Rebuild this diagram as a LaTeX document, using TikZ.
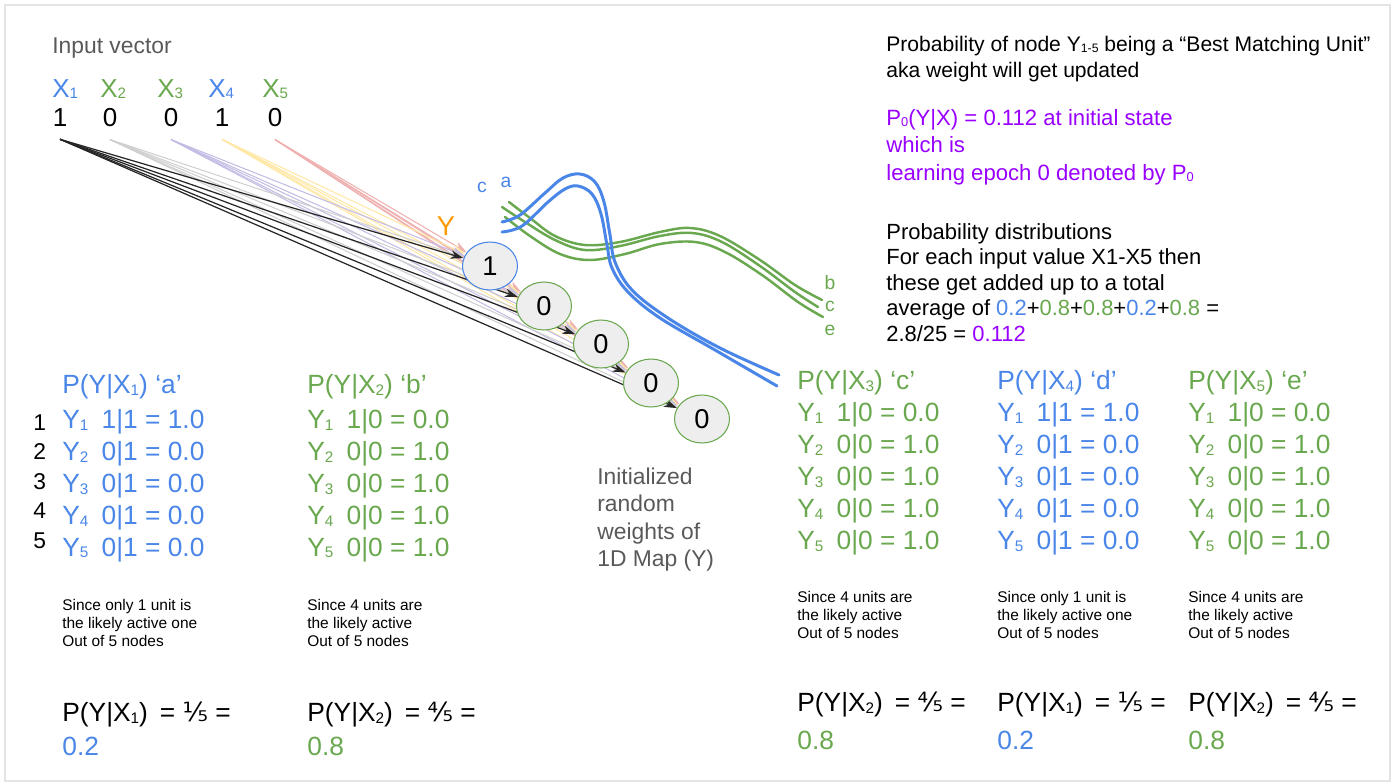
\documentclass[tikz,border=0pt]{standalone}
\usepackage{fontspec}
\setmainfont{Liberation Sans}
\newfontfamily\fracfont{DejaVu Sans}
\usepackage{tikz}
\usetikzlibrary{arrows.meta,shapes.geometric,backgrounds}
\tikzset{>=Stealth}
\usepackage{xcolor}
\definecolor{gblue}{HTML}{4A86E8}
\definecolor{ggreen}{HTML}{6AA84F}
\definecolor{gpurple}{HTML}{9900FF}
\definecolor{gorange}{HTML}{FF9900}
\definecolor{ggray}{HTML}{595959}
\definecolor{lnlav}{HTML}{C4BCE4}
\definecolor{lnyel}{HTML}{FFE7A6}
\definecolor{lnpink}{HTML}{EFB0B0}
\definecolor{lngray}{HTML}{CFCFCF}
\definecolor{unitfill}{HTML}{EEEEEE}
\definecolor{framegray}{HTML}{E4E4E4}
\newcommand{\sbs}[1]{\raisebox{-0.12ex}{\scalebox{0.58}{#1}}}
\newcommand{\fifth}{{\fracfont ⅕}}
\newcommand{\fourfifths}{{\fracfont ⅘}}

\begin{document}
\begin{tikzpicture}[
    x=0.02cm, y=-0.02cm,
    txt/.style={anchor=north west, inner sep=0pt, align=left},
    tabtext/.style={txt, font=\fontsize{15}{18.2}\selectfont},
    notetext/.style={txt, font=\fontsize{8.8}{10.25}\selectfont},
    bottext/.style={txt, font=\fontsize{15}{19.3}\selectfont},
    infotext/.style={txt, font=\fontsize{12.6}{14.8}\selectfont},
    invec/.style={txt, font=\fontsize{14.8}{17}\selectfont},
    inval/.style={anchor=center, inner xsep=0pt, inner ysep=0.24cm, font=\fontsize{14.8}{17}\selectfont},
    unit/.style={ellipse, draw=ggreen, line width=0.6pt, fill=unitfill, minimum width=1.1cm, minimum height=0.96cm, inner sep=0pt, font=\fontsize{15.5}{18}\selectfont},
    blkarrow/.style={-{Stealth[length=0.26cm,width=0.17cm]}, line width=0.7pt, black!85},
    grayarrow/.style={-{Stealth[length=0.26cm,width=0.17cm]}, line width=0.6pt, lngray},
    lavarrow/.style={-{Stealth[length=0.26cm,width=0.17cm]}, line width=0.6pt, lnlav},
    yelarrow/.style={-{Stealth[length=0.26cm,width=0.17cm]}, line width=0.6pt, lnyel},
    pinkarrow/.style={-{Stealth[length=0.26cm,width=0.17cm]}, line width=0.6pt, lnpink},
    bluecurve/.style={gblue, line width=1.7pt, line cap=round},
    greencurve/.style={ggreen, line width=1.4pt, line cap=round}
]
    \useasboundingbox (0,0) rectangle (1394,782);
    \draw[framegray, line width=1.2pt] (5,5) rectangle (1390,781);

    \node[txt, text=ggray, font=\fontsize{13}{15}\selectfont] (title) at (52,37) {Input vector};
    \node[invec, text=gblue] (x1) at (52,79) {X\sbs{1}};
    \node[invec, text=ggreen] (x2) at (100,79) {X\sbs{2}};
    \node[invec, text=ggreen] (x3) at (157,79) {X\sbs{3}};
    \node[invec, text=gblue] (x4) at (208,79) {X\sbs{4}};
    \node[invec, text=ggreen] (x5) at (262,79) {X\sbs{5}};
    \node[inval] (v1) at (60,118) {1};
    \node[inval] (v2) at (110,118) {0};
    \node[inval] (v3) at (171,118) {0};
    \node[inval] (v4) at (222,118) {1};
    \node[inval] (v5) at (275,118) {0};

    \node[unit, draw=gblue] (y1) at (490,266) {1};
    \node[unit] (y2) at (544,306) {0};
    \node[unit] (y3) at (601,344) {0};
    \node[unit] (y4) at (651,383) {0};
    \node[unit] (y5) at (702,419) {0};
    \node[text=gorange, font=\fontsize{15.5}{18}\selectfont, inner sep=0pt] (ylabel) at (446,226) {Y};

    \begin{pgfonlayer}{background}
    \draw[pinkarrow] (v5.south) -- (y1);
    \draw[pinkarrow] (v5.south) -- (y2);
    \draw[pinkarrow] (v5.south) -- (y3);
    \draw[pinkarrow] (v5.south) -- (y4);
    \draw[pinkarrow] (v5.south) -- (y5);
    \draw[yelarrow] (v4.south) -- (y1);
    \draw[yelarrow] (v4.south) -- (y2);
    \draw[yelarrow] (v4.south) -- (y3);
    \draw[yelarrow] (v4.south) -- (y4);
    \draw[yelarrow] (v4.south) -- (y5);
    \draw[lavarrow] (v3.south) -- (y1);
    \draw[lavarrow] (v3.south) -- (y2);
    \draw[lavarrow] (v3.south) -- (y3);
    \draw[lavarrow] (v3.south) -- (y4);
    \draw[lavarrow] (v3.south) -- (y5);
    \draw[grayarrow] (v2.south) -- (y1);
    \draw[grayarrow] (v2.south) -- (y2);
    \draw[grayarrow] (v2.south) -- (y3);
    \draw[grayarrow] (v2.south) -- (y4);
    \draw[grayarrow] (v2.south) -- (y5);
    \draw[blkarrow] (v1.south) -- (y1);
    \draw[blkarrow] (v1.south) -- (y2);
    \draw[blkarrow] (v1.south) -- (y3);
    \draw[blkarrow] (v1.south) -- (y4);
    \draw[blkarrow] (v1.south) -- (y5);
    \end{pgfonlayer}

    \draw[greencurve] plot[smooth, tension=0.6] coordinates {(509,202) (530,218) (555,236) (585,245) (620,242) (660,232) (690,228) (720,236) (760,260) (795,285) (822,300)};
    \draw[greencurve] plot[smooth, tension=0.6] coordinates {(502,207) (525,222) (555,240) (585,250) (620,246) (660,236) (692,233) (722,242) (760,266) (795,292) (818,307)};
    \draw[greencurve] plot[smooth, tension=0.6] coordinates {(505,217) (530,236) (560,254) (590,260) (625,254) (660,244) (695,242) (725,252) (762,275) (798,302) (823,317)};
    \draw[bluecurve] plot[smooth, tension=0.6] coordinates {(502,222) (520,215) (545,193) (563,178) (580,174) (595,182) (604,202) (610,235) (615,262) (632,290) (668,318) (720,348) (779,375)};
    \draw[bluecurve] plot[smooth, tension=0.6] coordinates {(502,232) (522,226) (548,202) (565,189) (578,186) (592,194) (601,214) (607,245) (612,268) (628,292) (660,318) (715,350) (777,386)};
    \node[text=gblue, font=\fontsize{11}{13}\selectfont, inner sep=0pt] (clabel) at (482,187) {c};
    \node[text=gblue, font=\fontsize{11}{13}\selectfont, inner sep=0pt] (alabel) at (506,182) {a};
    \node[text=ggreen, font=\fontsize{11}{13}\selectfont, inner sep=0pt] (blab) at (830,283) {b};
    \node[text=ggreen, font=\fontsize{11}{13}\selectfont, inner sep=0pt] (clab) at (830,306) {c};
    \node[text=ggreen, font=\fontsize{11}{13}\selectfont, inner sep=0pt] (elab) at (830,330) {e};

    \node[infotext, font=\fontsize{12}{14.8}\selectfont] (bmu) at (886,36) {Probability of node Y\sbs{1-5} being a “Best Matching Unit”\\aka weight will get updated};
    \node[infotext, text=gpurple, font=\fontsize{12.6}{15.6}\selectfont] (epoch) at (886,109) {P\sbs{0}(Y|X) = 0.112 at initial state\\which is\\learning epoch 0 denoted by P\sbs{0}};
    \node[infotext, font=\fontsize{12.5}{14.5}\selectfont] (dist) at (886,223) {Probability distributions\\For each input value X1-X5 then\\these get added up to a total\\average of {\color{gblue}0.2}+{\color{ggreen}0.8}+{\color{ggreen}0.8}+{\color{gblue}0.2}+{\color{ggreen}0.8} =\\2.8/25 = {\color{gpurple}0.112}};

    \node[txt, font=\fontsize{13}{16.8}\selectfont] (rownum) at (33,414) {1\\2\\3\\4\\5};
    \node[tabtext, text=gblue] (taba) at (62,374) {P(Y|X\sbs{1}) ‘a’\\[1.7pt]Y\sbs{1}\enspace 1|1 = 1.0\\Y\sbs{2}\enspace 0|1 = 0.0\\Y\sbs{3}\enspace 0|1 = 0.0\\Y\sbs{4}\enspace 0|1 = 0.0\\Y\sbs{5}\enspace 0|1 = 0.0};
    \node[tabtext, text=ggreen] (tabb) at (307,374) {P(Y|X\sbs{2}) ‘b’\\[1.7pt]Y\sbs{1}\enspace 1|0 = 0.0\\Y\sbs{2}\enspace 0|0 = 1.0\\Y\sbs{3}\enspace 0|0 = 1.0\\Y\sbs{4}\enspace 0|0 = 1.0\\Y\sbs{5}\enspace 0|0 = 1.0};
    \node[tabtext, text=ggreen] (tabc) at (797,370) {P(Y|X\sbs{3}) ‘c’\\Y\sbs{1}\enspace 1|0 = 0.0\\Y\sbs{2}\enspace 0|0 = 1.0\\Y\sbs{3}\enspace 0|0 = 1.0\\Y\sbs{4}\enspace 0|0 = 1.0\\Y\sbs{5}\enspace 0|0 = 1.0};
    \node[tabtext, text=gblue] (tabd) at (997,370) {P(Y|X\sbs{4}) ‘d’\\Y\sbs{1}\enspace 1|1 = 1.0\\Y\sbs{2}\enspace 0|1 = 0.0\\Y\sbs{3}\enspace 0|1 = 0.0\\Y\sbs{4}\enspace 0|1 = 0.0\\Y\sbs{5}\enspace 0|1 = 0.0};
    \node[tabtext, text=ggreen] (tabe) at (1188,370) {P(Y|X\sbs{5}) ‘e’\\Y\sbs{1}\enspace 1|0 = 0.0\\Y\sbs{2}\enspace 0|0 = 1.0\\Y\sbs{3}\enspace 0|0 = 1.0\\Y\sbs{4}\enspace 0|0 = 1.0\\Y\sbs{5}\enspace 0|0 = 1.0};

    \node[txt, text=ggray, font=\fontsize{13}{15.4}\selectfont] (initmap) at (597,468) {Initialized\\random\\weights of\\1D Map (Y)};

    \node[notetext] (notea) at (62,599) {Since only 1 unit is\\the likely active one\\Out of 5 nodes};
    \node[notetext] (noteb) at (307,599) {Since 4 units are\\the likely active\\Out of 5 nodes};
    \node[notetext] (notec) at (797,591) {Since 4 units are\\the likely active\\Out of 5 nodes};
    \node[notetext] (noted) at (997,591) {Since only 1 unit is\\the likely active one\\Out of 5 nodes};
    \node[notetext] (notee) at (1188,591) {Since 4 units are\\the likely active\\Out of 5 nodes};

    \node[bottext] (pa) at (62,702) {P(Y|X\sbs{1})\hspace{0.45em}= \fifth{} =\\{\color{gblue}0.2}};
    \node[bottext] (pb) at (307,702) {P(Y|X\sbs{2})\hspace{0.45em}= \fourfifths{} =\\{\color{ggreen}0.8}};
    \node[bottext] (pc) at (797,692) {P(Y|X\sbs{2})\hspace{0.45em}= \fourfifths{} =\\[2.3pt]{\color{ggreen}0.8}};
    \node[bottext] (pd) at (997,692) {P(Y|X\sbs{1})\hspace{0.45em}= \fifth{} =\\[2.3pt]{\color{gblue}0.2}};
    \node[bottext] (pe) at (1188,692) {P(Y|X\sbs{2})\hspace{0.45em}= \fourfifths{} =\\[2.3pt]{\color{ggreen}0.8}};
\end{tikzpicture}
\end{document}
